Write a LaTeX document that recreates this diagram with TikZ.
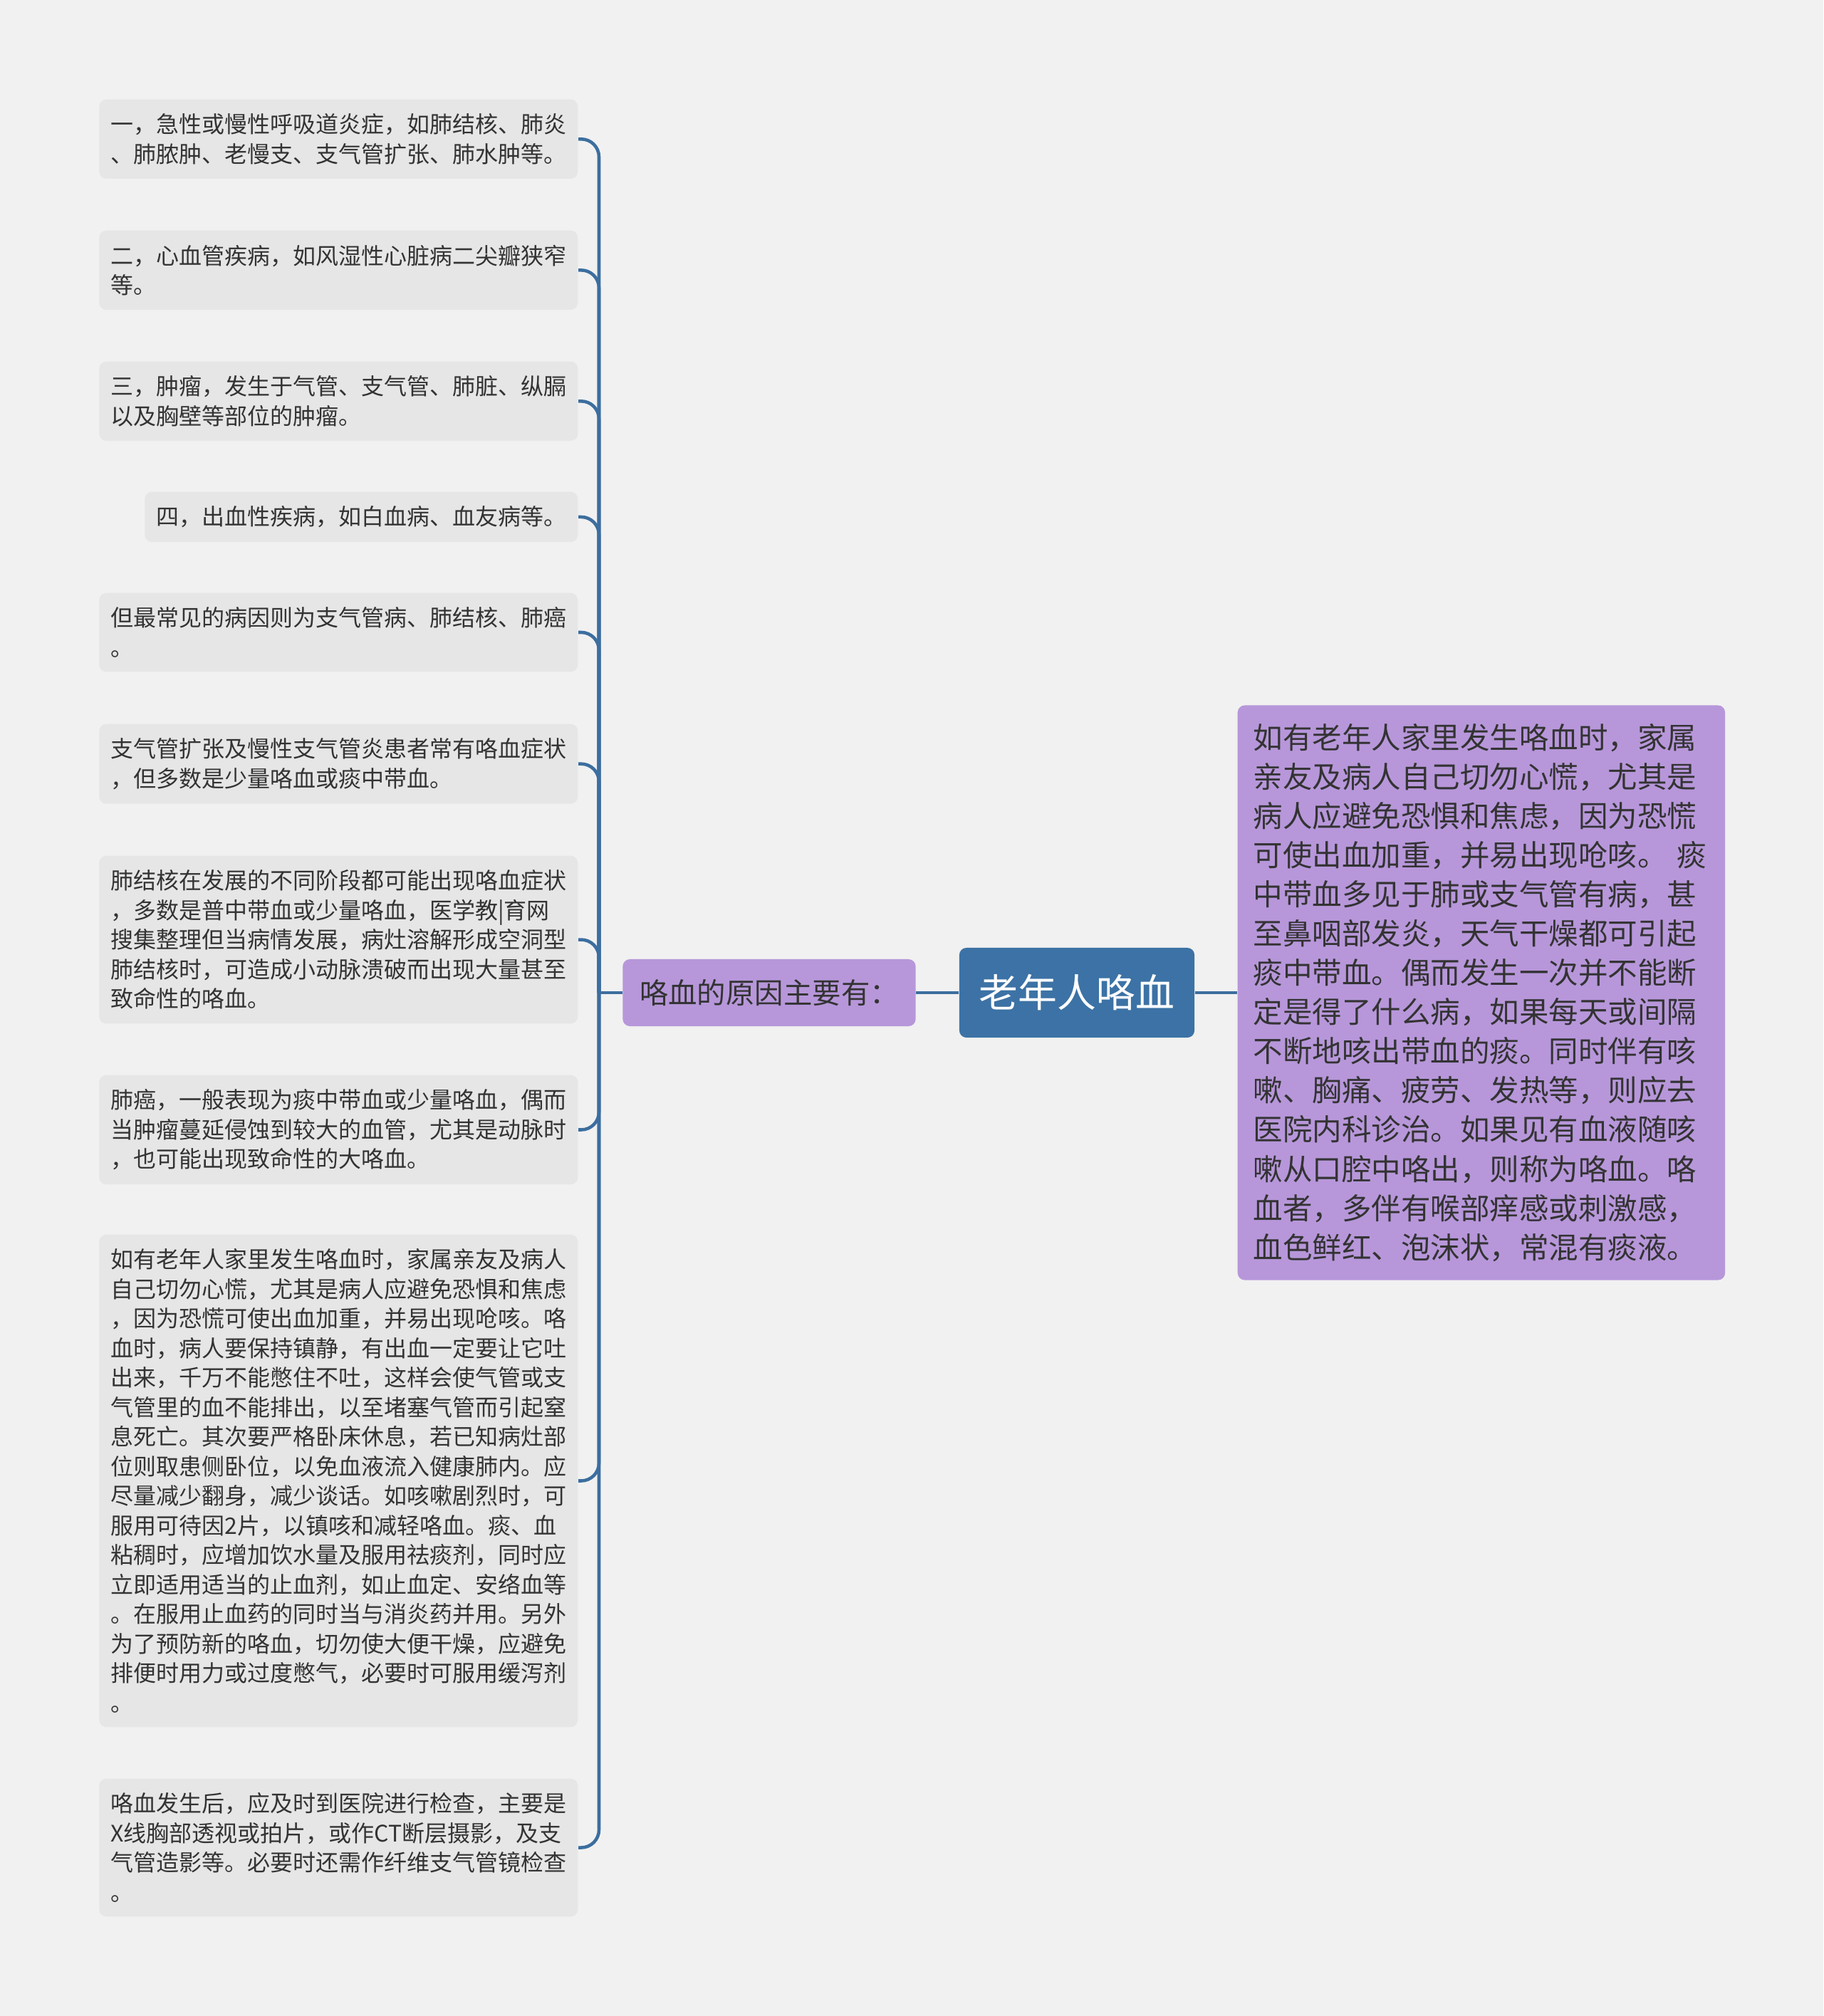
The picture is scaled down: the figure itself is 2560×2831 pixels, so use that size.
\documentclass[tikz,border=0pt]{standalone}
\usepackage{fontspec}
\setmainfont{Noto Sans CJK SC}
\usepackage{xcolor}
\usepackage{tikz}
\usetikzlibrary{positioning}

\definecolor{bgcol}{HTML}{F1F1F1}
\definecolor{leafcol}{HTML}{E6E6E6}
\definecolor{purplecol}{HTML}{B797DA}
\definecolor{rootcol}{HTML}{3C72A5}
\definecolor{linkcol}{HTML}{3C6E9F}
\definecolor{textcol}{HTML}{333333}

\begin{document}
\begin{tikzpicture}[
        x=0.01cm, y=-0.01cm,
        leaf/.style={rectangle, fill=leafcol, rounded corners=0.1cm, anchor=north east, align=left,
            inner xsep=0.16cm, inner ysep=0.2cm, text=textcol,
            font=\fontsize{9.1pt}{11.8pt}\selectfont},
        mid/.style={rectangle, fill=purplecol, rounded corners=0.1cm, minimum width=4.11cm,
            minimum height=0.94cm, text=textcol, font=\fontsize{11.5pt}{14pt}\selectfont},
        root/.style={rectangle, fill=rootcol, rounded corners=0.1cm, minimum width=3.3cm,
            minimum height=1.26cm, text=white, font=\fontsize{15.6pt}{18pt}\selectfont},
        detail/.style={rectangle, fill=purplecol, rounded corners=0.1cm, anchor=west, align=left,
            text width=6.4cm, inner xsep=0.22cm, inner ysep=0.26cm, text=textcol,
            font=\fontsize{11.8pt}{15.65pt}\selectfont},
        link/.style={draw=linkcol, line width=1.3pt, rounded corners=0.25cm},
    ]
        \fill[bgcol] (0,0) rectangle (2560,2831);

        % Centre
        \node[root] (root) at (1512,1394) {老年人咯血};
        \node[mid] (why) at (1080,1394) {咯血的原因主要有：};
        \node[detail] (detail) at (1737,1394) {如有老年人家里发生咯血时，家属\\亲友及病人自己切勿心慌，尤其是\\病人应避免恐惧和焦虑，因为恐慌\\可使出血加重，并易出现呛咳。 痰\\中带血多见于肺或支气管有病，甚\\至鼻咽部发炎，天气干燥都可引起\\痰中带血。偶而发生一次并不能断\\定是得了什么病，如果每天或间隔\\不断地咳出带血的痰。同时伴有咳\\嗽、胸痛、疲劳、发热等，则应去\\医院内科诊治。如果见有血液随咳\\嗽从口腔中咯出，则称为咯血。咯\\血者，多伴有喉部痒感或刺激感，\\血色鲜红、泡沫状，常混有痰液。};

        % Causes
        \node[leaf] (c1) at (812,139) {一，急性或慢性呼吸道炎症，如肺结核、肺炎\\、肺脓肿、老慢支、支气管扩张、肺水肿等。};
        \node[leaf] (c2) at (812,323) {二，心血管疾病，如风湿性心脏病二尖瓣狭窄\\等。};
        \node[leaf] (c3) at (812,507) {三，肿瘤，发生于气管、支气管、肺脏、纵膈\\以及胸壁等部位的肿瘤。};
        \node[leaf] (c4) at (812,690) {四，出血性疾病，如白血病、血友病等。};
        \node[leaf] (c5) at (812,832) {但最常见的病因则为支气管病、肺结核、肺癌\\。};
        \node[leaf] (c6) at (812,1016) {支气管扩张及慢性支气管炎患者常有咯血症状\\，但多数是少量咯血或痰中带血。};
        \node[leaf] (c7) at (812,1201) {肺结核在发展的不同阶段都可能出现咯血症状\\，多数是普中带血或少量咯血，医学教|育网\\搜集整理但当病情发展，病灶溶解形成空洞型\\肺结核时，可造成小动脉溃破而出现大量甚至\\致命性的咯血。};
        \node[leaf] (c8) at (812,1509) {肺癌，一般表现为痰中带血或少量咯血，偶而\\当肿瘤蔓延侵蚀到较大的血管，尤其是动脉时\\，也可能出现致命性的大咯血。};
        \node[leaf] (c9) at (812,1733) {如有老年人家里发生咯血时，家属亲友及病人\\自己切勿心慌，尤其是病人应避免恐惧和焦虑\\，因为恐慌可使出血加重，并易出现呛咳。咯\\血时，病人要保持镇静，有出血一定要让它吐\\出来，千万不能憋住不吐，这样会使气管或支\\气管里的血不能排出，以至堵塞气管而引起窒\\息死亡。其次要严格卧床休息，若已知病灶部\\位则取患侧卧位，以免血液流入健康肺内。应\\尽量减少翻身，减少谈话。如咳嗽剧烈时，可\\服用可待因2片，以镇咳和减轻咯血。痰、血\\粘稠时，应增加饮水量及服用祛痰剂，同时应\\立即适用适当的止血剂，如止血定、安络血等\\。在服用止血药的同时当与消炎药并用。另外\\为了预防新的咯血，切勿使大便干燥，应避免\\排便时用力或过度憋气，必要时可服用缓泻剂\\。};
        \node[leaf] (c10) at (812,2497) {咯血发生后，应及时到医院进行检查，主要是\\X线胸部透视或拍片，或作CT断层摄影，及支\\气管造影等。必要时还需作纤维支气管镜检查\\。};

        % Links
        \coordinate (fork) at (841,1394);
        \draw[link] (root) -- (detail);
        \draw[link] (root) -- (why);
        \draw[link] (why) -- (fork);
        \foreach \c in {c1,c2,c3,c4,c5,c6,c7,c8,c9,c10}
            \draw[link] (fork) |- (\c.east);

    \end{tikzpicture}
\end{document}
